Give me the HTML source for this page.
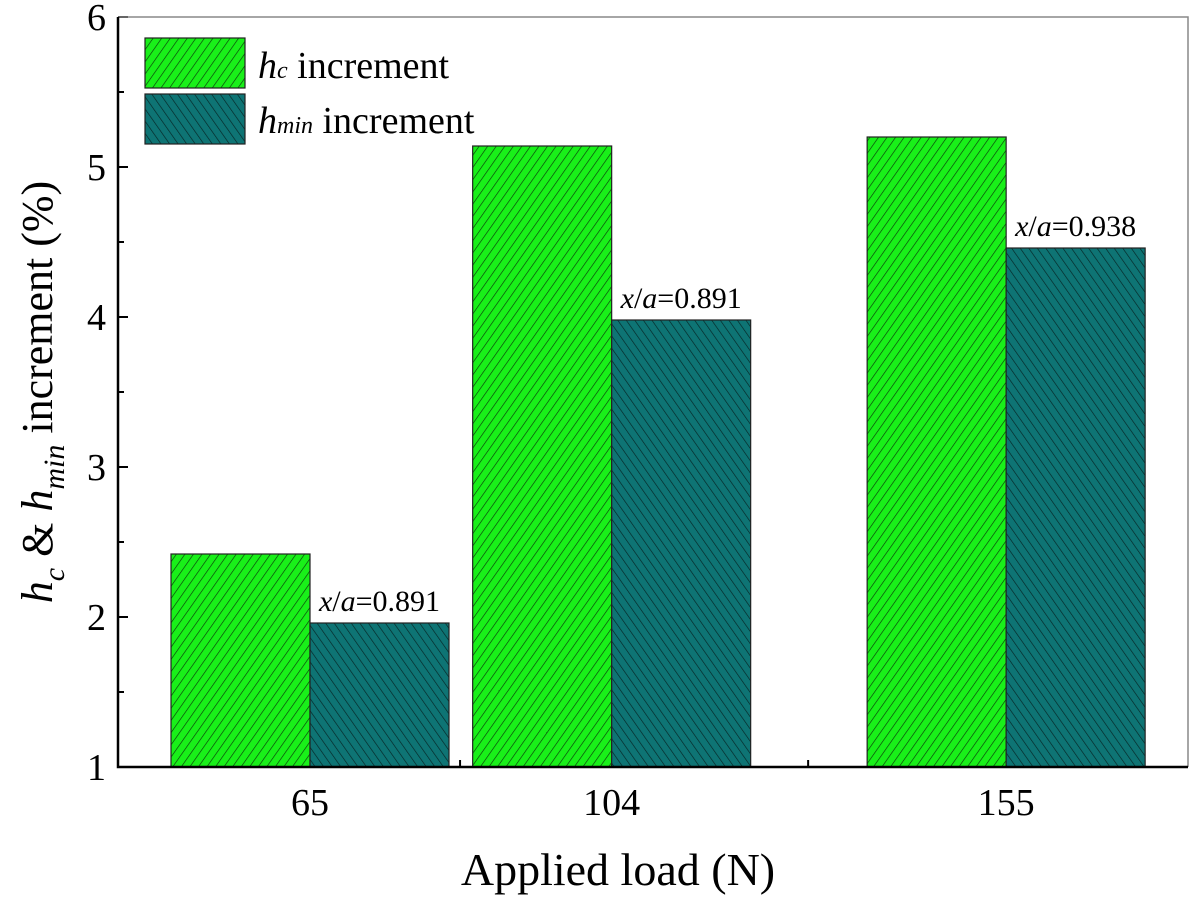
<!DOCTYPE html>
<html><head><meta charset="utf-8"><style>
body{margin:0;background:#fff;}
svg{display:block;font-family:"Liberation Serif",serif;}
</style></head><body>
<svg width="1200" height="906" viewBox="0 0 1200 906">
<defs>
<pattern id="hatchG" patternUnits="userSpaceOnUse" width="7" height="7" patternTransform="rotate(35)">
<rect width="7" height="7" fill="#19f019"/><line x1="0" y1="0" x2="0" y2="7" stroke="#0a3a0a" stroke-width="1.3"/>
</pattern>
<pattern id="hatchT" patternUnits="userSpaceOnUse" width="7" height="7" patternTransform="rotate(-35)">
<rect width="7" height="7" fill="#0e7474"/><line x1="0" y1="0" x2="0" y2="7" stroke="#062424" stroke-width="1.3"/>
</pattern>
</defs>
<g id="plot"></g>
<g>
<rect x="145" y="38" width="100" height="50" fill="url(#hatchG)" stroke="#222" stroke-width="1.2"/>
<text x="258" y="78" font-size="38"><tspan font-style="italic">h</tspan><tspan font-style="italic" font-size="24">c</tspan> increment</text>
<rect x="145" y="94" width="100" height="50" fill="url(#hatchT)" stroke="#222" stroke-width="1.2"/>
<text x="258" y="133" font-size="38"><tspan font-style="italic">h</tspan><tspan font-style="italic" font-size="24">min</tspan> increment</text>
</g>
<text x="618" y="885" font-size="46" text-anchor="middle">Applied load (N)</text>
<text transform="translate(52,392) rotate(-90)" font-size="44" text-anchor="middle"><tspan font-style="italic">h</tspan><tspan font-style="italic" font-size="30" dy="12">c</tspan><tspan dy="-12"> &amp; </tspan><tspan font-style="italic">h</tspan><tspan font-style="italic" font-size="30" dy="12">min</tspan><tspan dy="-12"> increment (%)</tspan></text>
</svg>
<script>
const loads = [65, 104, 155];
const hcValues = [2.42, 5.14, 5.20];
const hminValues = [1.96, 3.98, 4.46];
const annotations = ["0.891", "0.891", "0.938"];
const yTicks = [1, 2, 3, 4, 5, 6];
const xMinorTicks = [84.4, 129.4];

const L=118, R=1188, T=17, B=767, barW=139;
const yS = v => B - (v - 1) * (B - T) / 5;
const xS = ld => 310 + (ld - 65) * 7.735;
const NS="http://www.w3.org/2000/svg";
const g=document.getElementById('plot');
function mk(tag, attrs){const e=document.createElementNS(NS,tag);for(const k in attrs)e.setAttribute(k,attrs[k]);g.appendChild(e);return e;}

loads.forEach((ld,i)=>{
  const cx=xS(ld);
  const b1=mk('rect',{x:cx-barW,y:yS(hcValues[i]),width:barW,height:B-yS(hcValues[i]),fill:'url(#hatchG)',stroke:'#222','stroke-width':1.2});
  
  
  const b2=mk('rect',{x:cx,y:yS(hminValues[i]),width:barW,height:B-yS(hminValues[i]),fill:'url(#hatchT)',stroke:'#222','stroke-width':1.2});
  
  
  const t=mk('text',{x:cx+barW/2,y:yS(hminValues[i])-12,'font-size':30,'text-anchor':'middle'});
  t.innerHTML='<tspan font-style="italic">x</tspan>/<tspan font-style="italic">a</tspan>='+annotations[i];
  
  
  const xl=mk('text',{x:cx,y:815,'font-size':38,'text-anchor':'middle'});
  xl.textContent=ld;
  
  
});
xMinorTicks.forEach(ld=>{
  const m=mk('line',{x1:xS(ld),x2:xS(ld),y1:B,y2:B-7,stroke:'#000','stroke-width':2});
  
  
});
yTicks.forEach(v=>{
  const tk=mk('line',{x1:L,x2:L+10,y1:yS(v),y2:yS(v),stroke:'#000','stroke-width':2});
  
  
  if(v<6){const mn=mk('line',{x1:L,x2:L+6,y1:yS(v+0.5),y2:yS(v+0.5),stroke:'#000','stroke-width':2});
  
  }
  const tl=mk('text',{x:L-12,y:yS(v)+13,'font-size':38,'text-anchor':'end'});
  tl.textContent=v;
  
  
});
const frame=mk('path',{d:`M${L},${T} H${R} V${B}`,fill:'none',stroke:'#888','stroke-width':1.5});


const ax=mk('path',{d:`M${L},${T} V${B} H${R}`,fill:'none',stroke:'#000','stroke-width':2.5});


</script>
</body></html>
